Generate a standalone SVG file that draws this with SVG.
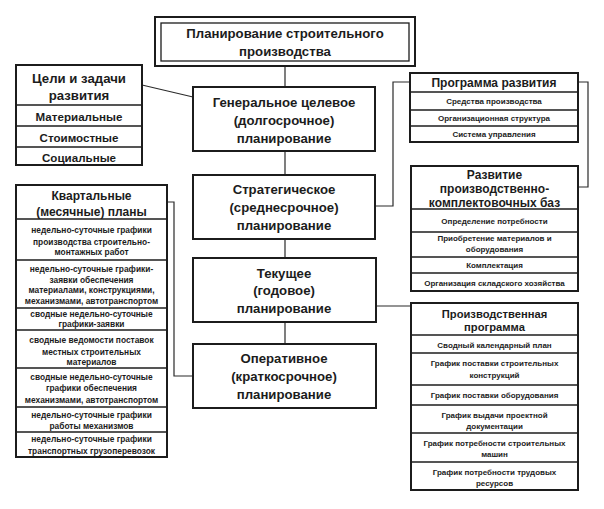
<svg xmlns="http://www.w3.org/2000/svg" width="604" height="509" viewBox="0 0 604 509">
<style>
text{font-family:"Liberation Sans",Arial,sans-serif;font-weight:bold;fill:#1c1c1c;text-anchor:middle}
.big{font-size:13.2px}
.t12{font-size:12px}
.t11{font-size:11.2px}
.mid{font-size:11.6px}
.sm{font-size:8px}
.sq{font-size:8.4px}
.box{fill:#fff;stroke:#1c1c1c;stroke-width:2}
.row{fill:#fff;stroke:#1c1c1c;stroke-width:1.3}
.ln{fill:none;stroke:#2a2a2a;stroke-width:1.2}
</style>
<rect width="604" height="509" fill="#fff"/>
<g id="connectors">
<path class="ln" d="M285,66V87M285,151V175M285,239V258M285,322V344"/>
<path class="ln" d="M142,85L193,97"/>
<path class="ln" d="M375,206H393V82H410"/>
<path class="ln" d="M578,82H588V187H578"/>
<path class="ln" d="M376,306H411"/>
<path class="ln" d="M167,202H174V376H193"/>
</g>
<g id="root">
<rect class="box" x="155" y="17" width="260" height="49"/>
<rect class="row" x="161" y="23" width="248" height="38" stroke-width="1.5"/>
<text class="big" x="285" y="37.5">Планирование строительного</text>
<text class="big" x="285" y="56">производства</text>
</g>
<g id="general">
<rect class="box" x="193" y="87" width="182" height="64"/>
<text class="big" x="284" y="106.5">Генеральное целевое</text>
<text class="big" x="284" y="124.5">(долгосрочное)</text>
<text class="big" x="284" y="142.5">планирование</text>
</g>
<g id="strategic">
<rect class="box" x="193" y="175" width="182" height="64"/>
<text class="big" x="284" y="193.5">Стратегическое</text>
<text class="big" x="284" y="211.5">(среднесрочное)</text>
<text class="big" x="284" y="229.5">планирование</text>
</g>
<g id="current">
<rect class="box" x="193" y="258" width="183" height="64"/>
<text class="big" x="284" y="277.5">Текущее</text>
<text class="big" x="284" y="294.5">(годовое)</text>
<text class="big" x="284" y="312.5">планирование</text>
</g>
<g id="operative">
<rect class="box" x="193" y="344" width="183" height="64"/>
<text class="big" x="284" y="362.5">Оперативное</text>
<text class="big" x="284" y="380.5">(краткосрочное)</text>
<text class="big" x="284" y="398.5">планирование</text>
</g>
<g id="goals">
<rect class="box" x="16" y="65" width="126" height="100"/>
<line class="row" x1="16" y1="105" x2="142" y2="105"/>
<line class="row" x1="16" y1="126" x2="142" y2="126"/>
<line class="row" x1="16" y1="147" x2="142" y2="147"/>
<text class="big" x="79" y="82.5">Цели и задачи</text>
<text class="big" x="79" y="99.5">развития</text>
<text class="mid" x="79" y="120.5">Материальные</text>
<text class="mid" x="79" y="141.5">Стоимостные</text>
<text class="mid" x="79" y="161.5">Социальные</text>
</g>
<g id="quarterly">
<rect class="box" x="16" y="185" width="151" height="272"/>
<line class="row" x1="16" y1="219" x2="167" y2="219"/>
<line class="row" x1="16" y1="260" x2="167" y2="260"/>
<line class="row" x1="16" y1="308" x2="167" y2="308"/>
<line class="row" x1="16" y1="330" x2="167" y2="330"/>
<line class="row" x1="16" y1="368" x2="167" y2="368"/>
<line class="row" x1="16" y1="407" x2="167" y2="407"/>
<line class="row" x1="16" y1="432" x2="167" y2="432"/>
<text class="t12" x="91.5" y="199.5">Квартальные</text>
<text class="t12" x="91.5" y="216">(месячные) планы</text>
<text class="sq" x="91.5" y="233">недельно-суточные графики</text>
<text class="sq" x="91.5" y="244.5">производства строительно-</text>
<text class="sq" x="91.5" y="255">монтажных работ</text>
<text class="sq" x="91.5" y="272">недельно-суточные графики-</text>
<text class="sq" x="91.5" y="282.5">заявки обеспечения</text>
<text class="sq" x="91.5" y="293">материалами, конструкциями,</text>
<text class="sq" x="91.5" y="304">механизмами, автотранспортом</text>
<text class="sq" x="91.5" y="317">сводные недельно-суточные</text>
<text class="sq" x="91.5" y="327">графики-заявки</text>
<text class="sq" x="91.5" y="343">сводные ведомости поставок</text>
<text class="sq" x="91.5" y="354.5">местных строительных</text>
<text class="sq" x="91.5" y="365">материалов</text>
<text class="sq" x="91.5" y="380">сводные недельно-суточные</text>
<text class="sq" x="91.5" y="391">графики обеспечения</text>
<text class="sq" x="91.5" y="402.5">механизмами, автотранспортом</text>
<text class="sq" x="91.5" y="418">недельно-суточные графики</text>
<text class="sq" x="91.5" y="429">работы механизмов</text>
<text class="sq" x="91.5" y="442">недельно-суточные графики</text>
<text class="sq" x="91.5" y="453.5">транспортных грузоперевозок</text>
</g>
<g id="program">
<rect class="box" x="410" y="73" width="168" height="69"/>
<line class="row" x1="410" y1="92" x2="578" y2="92"/>
<line class="row" x1="410" y1="110" x2="578" y2="110"/>
<line class="row" x1="410" y1="126" x2="578" y2="126"/>
<text class="t12" x="494" y="87">Программа развития</text>
<text class="sm" x="494" y="104">Средства производства</text>
<text class="sm" x="494" y="121">Организационная структура</text>
<text class="sm" x="494" y="137">Система управления</text>
</g>
<g id="bases">
<rect class="box" x="411" y="166" width="167" height="125"/>
<line class="row" x1="411" y1="209" x2="578" y2="209"/>
<line class="row" x1="411" y1="232" x2="578" y2="232"/>
<line class="row" x1="411" y1="257" x2="578" y2="257"/>
<line class="row" x1="411" y1="273" x2="578" y2="273"/>
<text class="t12" x="494.5" y="178.5">Развитие</text>
<text class="t12" x="494.5" y="193">производственно-</text>
<text class="t12" x="494.5" y="206.5">комплектовочных баз</text>
<text class="sm" x="494.5" y="224">Определение потребности</text>
<text class="sm" x="494.5" y="241">Приобретение материалов и</text>
<text class="sm" x="494.5" y="252">оборудования</text>
<text class="sm" x="494.5" y="268">Комплектация</text>
<text class="sm" x="494.5" y="285.5">Организация складского хозяйства</text>
</g>
<g id="production">
<rect class="box" x="411" y="303" width="167" height="187"/>
<line class="row" x1="411" y1="335" x2="578" y2="335"/>
<line class="row" x1="411" y1="353" x2="578" y2="353"/>
<line class="row" x1="411" y1="385" x2="578" y2="385"/>
<line class="row" x1="411" y1="405" x2="578" y2="405"/>
<line class="row" x1="411" y1="433" x2="578" y2="433"/>
<line class="row" x1="411" y1="462" x2="578" y2="462"/>
<text class="t11" x="494.5" y="317.5">Производственная</text>
<text class="t11" x="494.5" y="331">программа</text>
<text class="sm" x="494.5" y="347.5">Сводный календарный план</text>
<text class="sm" x="494.5" y="366">График поставки строительных</text>
<text class="sm" x="494.5" y="378">конструкций</text>
<text class="sm" x="494.5" y="398">График поставки оборудования</text>
<text class="sm" x="494.5" y="418">График выдачи проектной</text>
<text class="sm" x="494.5" y="429">документации</text>
<text class="sm" x="494.5" y="446">График потребности строительных</text>
<text class="sm" x="494.5" y="457">машин</text>
<text class="sm" x="494.5" y="475">График потребности трудовых</text>
<text class="sm" x="494.5" y="485.5">ресурсов</text>
</g>
</svg>
